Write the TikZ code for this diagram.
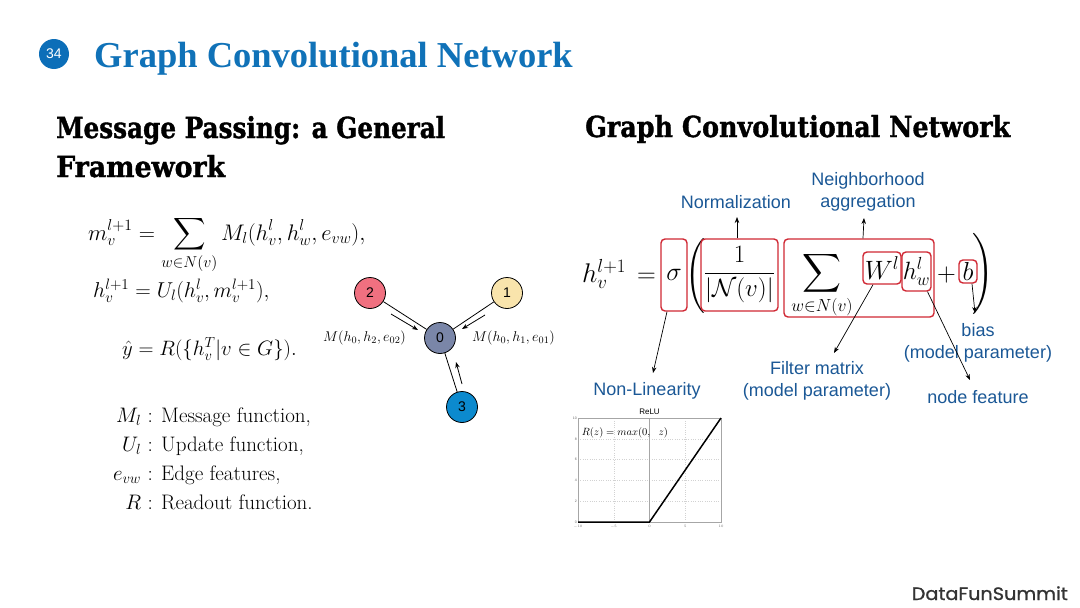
\RequirePackage{fix-cm}
\documentclass[tikz,border=0pt]{standalone}
\usepackage{amsmath,amssymb}
\usepackage{fontspec}
\usepackage{graphicx}
\usetikzlibrary{arrows.meta}
\newfontfamily\titlefont{Liberation Serif}
\newfontfamily\headfont{DejaVu Serif}[BoldFeatures={FakeBold=1.3}]
\newfontfamily\lblfont{Liberation Sans}
\newfontfamily\popfont{Poppins}[FakeBold=0.9]
\definecolor{boxred}{RGB}{208,40,52}
\definecolor{lblblue}{RGB}{27,88,150}
\definecolor{titleblue}{RGB}{16,114,184}
\definecolor{numblue}{RGB}{12,110,184}
\definecolor{ntwo}{RGB}{240,112,128}
\definecolor{nyellow}{RGB}{249,228,172}
\definecolor{nzero}{RGB}{122,134,168}
\definecolor{nthree}{RGB}{12,138,206}
\definecolor{footgray}{RGB}{51,51,51}
\begin{document}
\begin{tikzpicture}[x=1pt,y=-1pt,
  redbox/.style={draw=boxred,line width=1.4pt,rounded corners=4pt,inner sep=0pt},
  lbl/.style={font=\lblfont\fontsize{18}{21.5}\selectfont,text=lblblue,align=center,inner sep=0pt},
  ann/.style={draw=black,line width=0.7pt,-{Stealth[length=6pt,width=4.5pt]}},
  gnode/.style={circle,draw=black,line width=0.8pt,minimum size=31pt,inner sep=0pt,font=\lblfont\fontsize{14}{14}\selectfont},
  gedge/.style={draw=black,line width=0.8pt},
  garrow/.style={draw=black,line width=0.8pt,-{Stealth[length=6pt,width=4.5pt]}},
  eqtext/.style={inner sep=0pt,anchor=base west},
  deftext/.style={inner sep=0pt,anchor=base west,font=\fontsize{21}{26}\selectfont},
  bigmath/.style={inner sep=0pt,font=\fontsize{26}{30}\selectfont},
  gridl/.style={draw=gray!35,line width=0.3pt,dotted},
  ticklbl/.style={inner sep=0pt,font=\lblfont\fontsize{3.5}{4}\selectfont,text=gray!80!black}]
\useasboundingbox (0,0) rectangle (1080,608);
\fill[white] (0,0) rectangle (1080,608);

% title
\node[circle,fill=numblue,minimum size=30pt,inner sep=0pt,text=white,font=\lblfont\fontsize{14}{14}\selectfont] (num) at (54,54) {34};
\node[anchor=base west,inner sep=0pt,text=titleblue,font=\titlefont\bfseries\fontsize{36.5}{40}\selectfont] (title) at (94,67) {Graph Convolutional Network};

% headings
\node[anchor=base west,inner sep=0pt] (h1a) at (56,138) {\resizebox{389pt}{\height}{\headfont\bfseries\fontsize{29}{32}\selectfont Message Passing: a General}};
\node[anchor=base west,inner sep=0pt] (h1b) at (56,177) {\resizebox{169pt}{\height}{\headfont\bfseries\fontsize{29}{32}\selectfont Framework}};
\node[anchor=base west,inner sep=0pt] (h2) at (585,137) {\resizebox{425pt}{\height}{\headfont\bfseries\fontsize{29}{32}\selectfont Graph Convolutional Network}};

% left equations
\node[eqtext,font=\fontsize{22.5}{27}\selectfont] (e1) at (88,240) {$\displaystyle m_v^{l+1} = \sum_{w\in N(v)} M_l(h_v^l, h_w^l, e_{vw}),$};
\node[eqtext,font=\fontsize{21.5}{26}\selectfont] (e2) at (93,297) {$h_v^{l+1} = U_l(h_v^l, m_v^{l+1}),$};
\node[eqtext,font=\fontsize{20.8}{25}\selectfont] (e3) at (122,355) {$\hat{y} = R(\{h_v^T|v\in G\}).$};

\node[deftext] (d1) at (95,422) {\makebox[46pt][r]{$M_l$} : Message function,};
\node[deftext] (d2) at (95,451) {\makebox[46pt][r]{$U_l$} : Update function,};
\node[deftext] (d3) at (95,480) {\makebox[46pt][r]{$e_{vw}$} : Edge features,};
\node[deftext] (d4) at (95,509) {\makebox[46pt][r]{$R$} : Readout function.};

% graph
\node[gnode,fill=ntwo] (g2) at (370,293) {2};
\node[gnode,fill=nyellow] (g1) at (507,293) {1};
\node[gnode,fill=nzero] (g0) at (440,338) {0};
\node[gnode,fill=nthree] (g3) at (462,407) {3};
\draw[gedge] (g2) -- (g0);
\draw[gedge] (g1) -- (g0);
\draw[gedge] (g3) -- (g0);
\coordinate (a2s) at (391,314); \coordinate (a2e) at (418,330);
\coordinate (a1s) at (485,315); \coordinate (a1e) at (462,329);
\coordinate (a3s) at (462,384); \coordinate (a3e) at (456,362);
\draw[garrow] (a2s) -- (a2e);
\draw[garrow] (a1s) -- (a1e);
\draw[garrow] (a3s) -- (a3e);
\node[anchor=base east,inner sep=0pt,font=\fontsize{14.2}{16}\selectfont] (l02) at (406,341) {$M(h_0,h_2,e_{02})$};
\node[anchor=base west,inner sep=0pt,font=\fontsize{14.2}{16}\selectfont] (l01) at (472,341) {$M(h_0,h_1,e_{01})$};

% right formula
\node[inner sep=0pt,anchor=base west,font=\fontsize{27}{30}\selectfont] (lhs) at (582,282) {$h_v^{l+1}$};
\node[bigmath,anchor=base west] (eqs) at (637,282) {$=$};
\node[redbox,minimum width=26pt,minimum height=72pt,font=\fontsize{26}{30}\selectfont] (sig) at (674,275) {$\sigma$};
\node[inner sep=0pt,font=\fontsize{25}{30}\selectfont] (lpar) at (695,276) {$\Biggl($};
\node[redbox,minimum width=77pt,minimum height=72pt,font=\fontsize{25}{30}\selectfont] (frac) at (739.5,275) {$\dfrac{1}{|\mathcal{N}(v)|}$};
\node[redbox,minimum width=150pt,minimum height=78pt] (agg) at (859,278) {};
\node[inner sep=0pt,font=\fontsize{27}{30}\selectfont] (sum) at (821.5,273.5) {$\displaystyle\sum$};
\node[inner sep=0pt,font=\fontsize{25}{30}\selectfont] (sub) at (822,307) {$\scriptstyle w\in N(v)$};
\node[redbox,minimum width=38pt,minimum height=32pt,font=\fontsize{26.5}{30}\selectfont] (W) at (882,268) {$W^l$};
\node[redbox,minimum width=29pt,minimum height=39pt,font=\fontsize{25}{30}\selectfont] (hw) at (916.5,271.5) {$h^l_w$};
\node[bigmath] (plus) at (946.5,275) {$+$};
\node[redbox,minimum width=18pt,minimum height=23pt,font=\fontsize{26}{30}\selectfont] (b) at (968,271.5) {$b$};
\node[inner sep=0pt,font=\fontsize{27}{30}\selectfont] (rpar) at (983,274) {$\Biggr)$};

% annotation labels
\node[lbl] (norm) at (736,202) {Normalization};
\node[lbl] (neigh) at (868,192) {Neighborhood\\aggregation};
\node[lbl] (nonlin) at (647,391) {Non-Linearity};
\node[lbl] (filt) at (817,381) {Filter matrix\\(model parameter)};
\node[lbl] (bias) at (978,343) {bias\\(model parameter)};
\node[lbl] (nfeat) at (978,397) {node feature};

\coordinate (tnorm) at (737,217);
\coordinate (tneigh) at (864,218);
\coordinate (tnon) at (653,373);
\coordinate (tfilt) at (834,353);
\coordinate (tnf) at (970,380);
\coordinate (tbias) at (975,313);
\draw[ann] ([xshift=-2.5pt]frac.north) -- (tnorm);
\draw[ann] ([xshift=4pt]agg.north) -- (tneigh);
\draw[ann] ([xshift=-7pt]sig.south) -- (tnon);
\draw[ann] ([xshift=-9pt]W.south) -- (tfilt);
\draw[ann] ([xshift=11pt]hw.south) -- (tnf);
\draw[ann] ([xshift=4pt]b.south) -- (tbias);

% ReLU plot
\begin{scope}[shift={(649.5,522)},x=7.15pt,y=10.4pt]
  \foreach \gx in {-5,5} \draw[gridl] (\gx,0) -- (\gx,10);
  \foreach \gy in {2,4,6,8} \draw[gridl] (-10,\gy) -- (10,\gy);
  \draw[draw=gray!70,line width=0.4pt] (-10,0) rectangle (10,10);
  \draw[draw=gray!70,line width=0.4pt] (0,0) -- (0,10);
  \draw[black,line width=1.5pt] (-10,0) -- (0,0) -- (10,10);
  \node[inner sep=0pt,font=\lblfont\fontsize{8}{9}\selectfont] (relu) at (0,10.6) {ReLU};
  \node[inner sep=0pt,anchor=west,font=\fontsize{10.5}{12}\selectfont] (rz) at (-9.5,8.6) {$R(z) = max(0,\;\ z)$};
  \foreach \gx in {-10,-5,0,5,10} \node[ticklbl] at (\gx,-0.45) {$\gx$};
  \foreach \gy in {0,2,4,6,8,10} \node[ticklbl,anchor=east] at (-10.15,\gy) {\gy};
\end{scope}

% footer
\node[anchor=base east,inner sep=0pt,text=footgray] (foot) at (1068,600) {\resizebox{156pt}{\height}{\popfont\fontsize{18}{20}\selectfont DataFunSummit}};
\end{tikzpicture}
\end{document}
